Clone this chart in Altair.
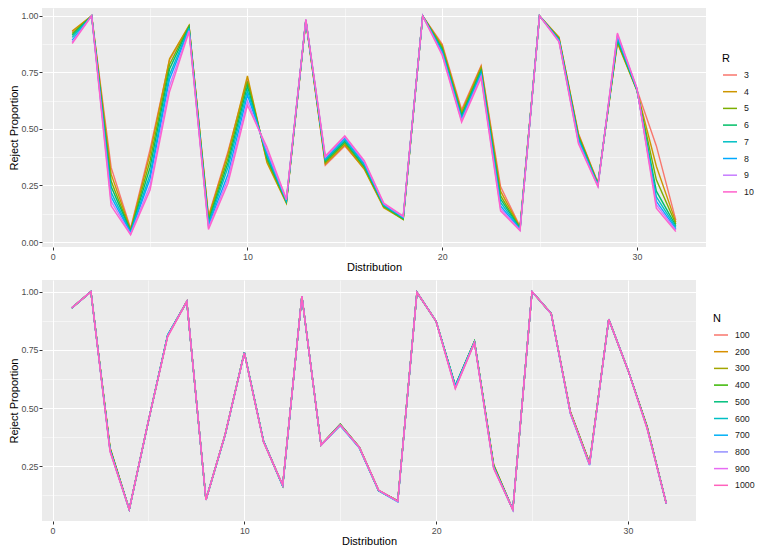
import altair as alt
import pandas as pd

distribution = list(range(1, 33))

r_levels = ["3", "4", "5", "6", "7", "8", "9", "10"]
r_colors = ["#F8766D", "#CD9600", "#7CAE00", "#00BE67", "#00BFC4", "#00A9FF", "#C77CFF", "#FF61CC"]
r3 = [0.930,1.00,0.330,0.060,0.410,0.805,0.955,0.115,0.400,0.720,0.360,0.175,0.978,0.340,0.425,0.325,0.155,0.105,1.000,0.875,0.585,0.780,0.245,0.068,1.000,0.905,0.480,0.262,0.885,0.675,0.425,0.097]
r4 = [0.933,1.00,0.300,0.055,0.390,0.810,0.958,0.110,0.390,0.735,0.352,0.172,0.979,0.345,0.430,0.322,0.152,0.100,1.000,0.868,0.575,0.775,0.225,0.065,1.000,0.905,0.475,0.260,0.880,0.670,0.335,0.088]
r5 = [0.922,1.00,0.270,0.050,0.360,0.785,0.955,0.100,0.370,0.710,0.365,0.176,0.980,0.352,0.438,0.330,0.157,0.100,1.000,0.860,0.565,0.765,0.205,0.062,1.000,0.900,0.470,0.257,0.888,0.672,0.275,0.080]
r6 = [0.915,1.00,0.245,0.047,0.330,0.765,0.950,0.090,0.350,0.690,0.375,0.178,0.981,0.358,0.445,0.335,0.160,0.104,1.000,0.852,0.558,0.757,0.190,0.060,1.000,0.897,0.462,0.255,0.895,0.674,0.225,0.072]
r7 = [0.905,1.00,0.220,0.043,0.300,0.740,0.945,0.080,0.330,0.670,0.385,0.181,0.982,0.365,0.452,0.342,0.163,0.107,1.000,0.845,0.550,0.750,0.175,0.057,1.000,0.894,0.455,0.252,0.902,0.676,0.200,0.065]
r8 = [0.893,1.00,0.200,0.040,0.280,0.720,0.940,0.072,0.300,0.650,0.395,0.184,0.983,0.370,0.460,0.348,0.166,0.110,1.000,0.838,0.543,0.742,0.160,0.055,1.000,0.891,0.448,0.250,0.910,0.678,0.180,0.058]
r9 = [0.885,1.00,0.180,0.035,0.250,0.690,0.935,0.063,0.280,0.625,0.405,0.187,0.984,0.375,0.465,0.354,0.169,0.112,1.000,0.832,0.537,0.734,0.148,0.052,1.000,0.888,0.441,0.247,0.918,0.680,0.165,0.052]
r10 = [0.878,1.00,0.160,0.032,0.230,0.665,0.930,0.056,0.260,0.605,0.420,0.190,0.985,0.380,0.470,0.360,0.172,0.115,1.000,0.826,0.530,0.726,0.138,0.050,1.000,0.885,0.435,0.245,0.924,0.682,0.150,0.046]
r_series = [r3, r4, r5, r6, r7, r8, r9, r10]

n_levels = ["100", "200", "300", "400", "500", "600", "700", "800", "900", "1000"]
n_colors = ["#F8766D", "#D89000", "#A3A500", "#39B600", "#00BF7D", "#00BFC4", "#00B0F6", "#9590FF", "#E76BF3", "#FF62BC"]
n100 = [0.930,1.00,0.330,0.066,0.445,0.812,0.958,0.108,0.386,0.738,0.358,0.168,0.980,0.340,0.428,0.332,0.147,0.102,0.997,0.873,0.595,0.785,0.258,0.064,1.000,0.907,0.485,0.265,0.880,0.665,0.422,0.090]
n200 = [0.931,1.00,0.328,0.065,0.446,0.810,0.958,0.107,0.388,0.737,0.357,0.167,0.981,0.341,0.429,0.331,0.146,0.101,0.997,0.872,0.593,0.784,0.256,0.063,1.000,0.906,0.484,0.264,0.881,0.664,0.421,0.091]
n300 = [0.929,1.00,0.326,0.064,0.444,0.811,0.957,0.106,0.387,0.739,0.356,0.168,0.980,0.342,0.430,0.330,0.147,0.100,0.997,0.873,0.594,0.786,0.254,0.064,1.000,0.905,0.483,0.263,0.880,0.665,0.419,0.090]
n400 = [0.930,1.00,0.324,0.065,0.445,0.812,0.958,0.107,0.385,0.740,0.357,0.166,0.981,0.341,0.431,0.331,0.146,0.101,0.997,0.872,0.596,0.787,0.252,0.063,1.000,0.906,0.482,0.262,0.881,0.664,0.418,0.091]
n500 = [0.931,1.00,0.322,0.064,0.446,0.813,0.957,0.106,0.386,0.738,0.358,0.165,0.980,0.342,0.429,0.330,0.145,0.100,0.997,0.873,0.597,0.786,0.250,0.064,1.000,0.907,0.481,0.261,0.882,0.665,0.417,0.090]
n600 = [0.930,1.00,0.320,0.065,0.445,0.814,0.958,0.105,0.384,0.739,0.359,0.164,0.981,0.343,0.428,0.329,0.146,0.099,0.997,0.872,0.595,0.785,0.248,0.063,1.000,0.906,0.480,0.259,0.881,0.664,0.416,0.091]
n700 = [0.929,1.00,0.318,0.064,0.444,0.812,0.957,0.106,0.385,0.737,0.357,0.166,0.980,0.341,0.424,0.328,0.145,0.097,0.997,0.873,0.592,0.783,0.246,0.064,1.000,0.905,0.476,0.255,0.880,0.665,0.415,0.090]
n800 = [0.930,1.00,0.316,0.065,0.445,0.810,0.958,0.107,0.386,0.738,0.356,0.167,0.981,0.340,0.426,0.329,0.146,0.098,0.997,0.872,0.588,0.782,0.244,0.063,1.000,0.906,0.478,0.257,0.881,0.664,0.414,0.091]
n900 = [0.931,1.00,0.314,0.064,0.446,0.808,0.957,0.106,0.387,0.737,0.355,0.168,0.980,0.341,0.427,0.330,0.147,0.099,0.997,0.873,0.585,0.781,0.242,0.064,1.000,0.905,0.479,0.258,0.880,0.665,0.413,0.090]
n1000 = [0.930,1.00,0.312,0.065,0.445,0.806,0.958,0.105,0.386,0.736,0.354,0.169,0.981,0.342,0.428,0.331,0.148,0.100,0.997,0.872,0.583,0.780,0.240,0.063,1.000,0.906,0.480,0.259,0.881,0.664,0.412,0.091]
n_series = [n100, n200, n300, n400, n500, n600, n700, n800, n900, n1000]

y_major = [0.0, 0.25, 0.5, 0.75, 1.0]
y_minor = [0.125, 0.375, 0.625, 0.875]
x_major = [0, 10, 20, 30]
x_minor = [5, 15, 25]

top_df = pd.DataFrame([
    {"Distribution": d, "Reject": v, "R": lvl}
    for lvl, vals in zip(r_levels, r_series) for d, v in zip(distribution, vals)
])
bot_df = pd.DataFrame([
    {"Distribution": d, "Reject": v, "N": lvl}
    for lvl, vals in zip(n_levels, n_series) for d, v in zip(distribution, vals)
])

FONT = "Liberation Sans"
xscale = alt.Scale(domain=[-0.55, 33.55], nice=False, zero=False)


def panel(df, field, levels, colors, ydomain, yticks, width, height, lx, ly):
    yscale = alt.Scale(domain=ydomain, nice=False, zero=False)
    minor = alt.Chart(df).mark_point(opacity=0).encode(
        x=alt.X("Distribution:Q", scale=xscale,
                axis=alt.Axis(values=x_minor, labels=False, ticks=False, domain=False,
                              title=None, grid=True, gridWidth=0.5, gridColor="white", orient="bottom")),
        y=alt.Y("Reject:Q", scale=yscale,
                axis=alt.Axis(values=y_minor, labels=False, ticks=False, domain=False,
                              title=None, grid=True, gridWidth=0.5, gridColor="white", orient="left")),
    )
    lines = alt.Chart(df).mark_line(strokeWidth=1.4).encode(
        x=alt.X("Distribution:Q", scale=xscale,
                axis=alt.Axis(values=x_major, title="Distribution", grid=True, orient="bottom",
                              labelPadding=2, titlePadding=1)),
        y=alt.Y("Reject:Q", scale=yscale,
                axis=alt.Axis(values=yticks, format=".2f", title="Reject Proportion", grid=True, orient="left",
                              labelPadding=1, titlePadding=1)),
        color=alt.Color(f"{field}:N", scale=alt.Scale(domain=levels, range=colors),
                        legend=alt.Legend(title=field, orient="none", legendX=lx, legendY=ly,
                                          symbolType="stroke", symbolSize=196, symbolStrokeWidth=1.5,
                                          labelFontSize=8.8, titleFontSize=11, labelFont=FONT, titleFont=FONT,
                                          titleFontWeight="normal", labelColor="#1A1A1A", titleColor="black",
                                          rowPadding=3.7, titlePadding=3, labelOffset=6)),
    )
    return alt.layer(minor, lines).resolve_axis(x="independent", y="independent").properties(
        width=width, height=height)


top = panel(top_df, "R", r_levels, r_colors, [-0.022, 1.035], y_major, 664, 239, 680, 45)
bottom = panel(bot_df, "N", n_levels, n_colors, [0.015, 1.05], y_major[1:], 654, 241, 671, 33)

chart = alt.vconcat(top, bottom, spacing=7).resolve_scale(color="independent").properties(
    padding=0
).configure_view(fill="#EBEBEB", stroke=None).configure_axis(
    domain=False, tickColor="#333333", tickSize=3, tickWidth=1, labelColor="#4D4D4D",
    labelFontSize=8.8, labelFont=FONT, titleFont=FONT, titleFontSize=11, titleFontWeight="normal",
    titleColor="black", gridColor="white", gridWidth=1
)

chart.save("out.html", embed_options={"renderer": "svg", "actions": False})
